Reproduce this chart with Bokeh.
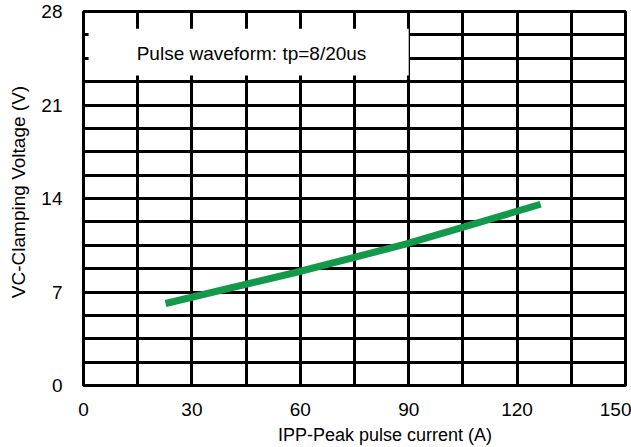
from math import pi
from bokeh.plotting import figure
from bokeh.models import FixedTicker, Label
from bokeh.embed import file_html
from bokeh.resources import INLINE

# ---- data ----
ipp = [22.7, 58.7, 89.1, 126.5]          # peak pulse current (A)
vc = [6.14, 8.46, 10.58, 13.57]          # clamping voltage (V)

x_ticks = [0, 30, 60, 90, 120, 150]
y_ticks = [0, 7, 14, 21, 28]
x_grid = [0, 15, 30, 45, 60, 75, 90, 105, 120, 135, 150]
y_grid = [0, 1.75, 3.5, 5.25, 7, 8.75, 10.5, 12.25, 14, 15.75, 17.5,
          19.25, 21, 22.75, 24.5, 26.25, 28]
note_text = "Pulse waveform: tp=8/20us"
x_title = "IPP-Peak pulse current (A)"
y_title = "VC-Clamping Voltage (V)"

FONT = "Liberation Sans"

p = figure(width=631, height=447, x_range=(0, 150), y_range=(0, 28),
           output_backend="svg", toolbar_location=None,
           min_border_left=83, min_border_right=6,
           min_border_top=11, min_border_bottom=62)

p.background_fill_color = "white"
p.border_fill_color = "white"
p.outline_line_color = "black"
p.outline_line_width = 3

for ax, ticks, standoff in ((p.xaxis, x_ticks, 11), (p.yaxis, y_ticks, 15)):
    ax.ticker = FixedTicker(ticks=ticks)
    ax.axis_line_color = None
    ax.major_tick_line_color = None
    ax.minor_tick_line_color = None
    ax.major_label_text_font = FONT
    ax.major_label_text_font_size = "19px"
    ax.major_label_text_color = "black"
    ax.major_label_standoff = standoff
    ax.axis_label = None
p.xaxis.major_label_text_align = "right"

p.xgrid.ticker = FixedTicker(ticks=x_grid)
p.ygrid.ticker = FixedTicker(ticks=y_grid)
for g in (p.xgrid, p.ygrid):
    g.grid_line_color = "black"
    g.grid_line_width = 3
    g.grid_line_alpha = 1.0

# white note box covering the grid
p.quad(left=1.4, right=90.0, bottom=23.2, top=26.7,
       fill_color="white", line_color=None)
p.add_layout(Label(x=46.5, y=24.86, text=note_text, text_align="center",
                   text_baseline="middle", text_font=FONT,
                   text_font_size="19px", text_color="black"))

# curve
p.line(ipp, vc, line_color="#12994a", line_width=7)

# axis titles, placed in the side panels so they are not clipped
p.add_layout(Label(x=384.5, y=434, x_units="canvas", y_units="canvas",
                   text=x_title, text_font=FONT, text_font_size="18px",
                   text_color="black", text_baseline="middle",
                   text_align="center"), "below")
p.add_layout(Label(x=17.5, y=191.5, x_units="canvas", y_units="canvas",
                   text=y_title, angle=pi / 2, text_font=FONT,
                   text_font_size="19px", text_color="black",
                   text_baseline="middle", text_align="center"), "left")

open("out.html", "w").write(file_html(p, INLINE))
